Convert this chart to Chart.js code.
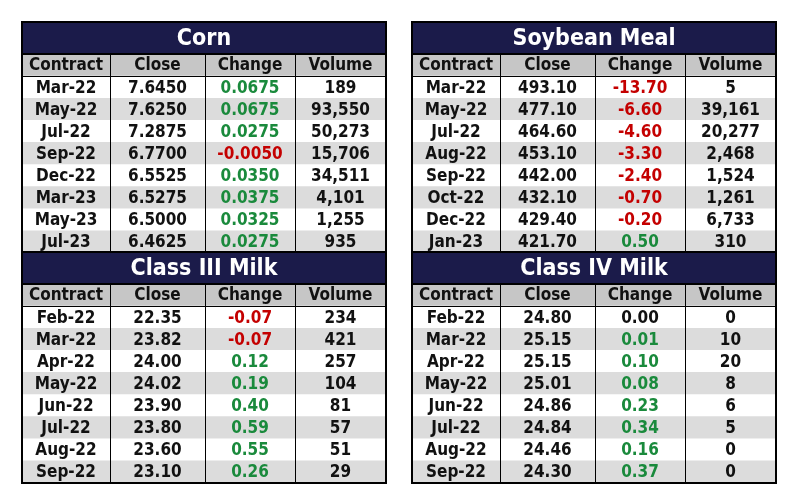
<!DOCTYPE html>
<html><head><meta charset="utf-8">
<script src="https://cdn.jsdelivr.net/npm/chart.js@4/dist/chart.umd.min.js"></script>
<style>body{margin:0;background:#fff;width:799px;height:503px;position:relative;overflow:hidden}canvas{position:absolute}</style>
</head><body>
<canvas id="c1" width="366" height="233" style="left:21px;top:21px"></canvas>
<canvas id="c2" width="366" height="233" style="left:21px;top:251px"></canvas>
<canvas id="c3" width="366" height="233" style="left:411px;top:21px"></canvas>
<canvas id="c4" width="366" height="233" style="left:411px;top:251px"></canvas>
<script>
const columns = ["Contract","Close","Change","Volume"];
const columnEdges = [0, 88, 183, 273, 364];

const cornContracts = ["Mar-22","May-22","Jul-22","Sep-22","Dec-22","Mar-23","May-23","Jul-23"];
const cornClose = ["7.6450","7.6250","7.2875","6.7700","6.5525","6.5275","6.5000","6.4625"];
const cornChange = ["0.0675","0.0675","0.0275","-0.0050","0.0350","0.0375","0.0325","0.0275"];
const cornVolume = ["189","93,550","50,273","15,706","34,511","4,101","1,255","935"];

const mealContracts = ["Mar-22","May-22","Jul-22","Aug-22","Sep-22","Oct-22","Dec-22","Jan-23"];
const mealClose = ["493.10","477.10","464.60","453.10","442.00","432.10","429.40","421.70"];
const mealChange = ["-13.70","-6.60","-4.60","-3.30","-2.40","-0.70","-0.20","0.50"];
const mealVolume = ["5","39,161","20,277","2,468","1,524","1,261","6,733","310"];

const milk3Contracts = ["Feb-22","Mar-22","Apr-22","May-22","Jun-22","Jul-22","Aug-22","Sep-22"];
const milk3Close = ["22.35","23.82","24.00","24.02","23.90","23.80","23.60","23.10"];
const milk3Change = ["-0.07","-0.07","0.12","0.19","0.40","0.59","0.55","0.26"];
const milk3Volume = ["234","421","257","104","81","57","51","29"];

const milk4Contracts = ["Feb-22","Mar-22","Apr-22","May-22","Jun-22","Jul-22","Aug-22","Sep-22"];
const milk4Close = ["24.80","25.15","25.15","25.01","24.86","24.84","24.46","24.30"];
const milk4Change = ["0.00","0.01","0.10","0.08","0.23","0.34","0.16","0.37"];
const milk4Volume = ["0","10","20","8","6","5","0","0"];

const FONT = '"DejaVu Sans Condensed","DejaVu Sans",sans-serif';

function makeTable(id, title, contracts, close, change, volume){
  const rows = ["header", ...contracts];
  const cells = [columns, ...contracts.map((c,i)=>[c, close[i], change[i], volume[i]])];
  const total = columnEdges[columnEdges.length-1];
  const tablePlugin = {
    id:'tbl',
    afterDatasetsDraw(chart){
      const ctx = chart.ctx, x = chart.scales.x, y = chart.scales.y, a = chart.chartArea;
      const half = (y.getPixelForValue(1)-y.getPixelForValue(0))/2;
      // title bar
      ctx.save();
      ctx.fillStyle = '#1b1b4a';
      ctx.fillRect(a.left, 1, a.right-a.left, a.top-1);
      ctx.fillStyle = '#fff';
      ctx.font = 'bold 23px '+FONT;
      ctx.textAlign='center'; ctx.textBaseline='middle';
      ctx.fillText(title, (a.left+a.right)/2, (a.top+1)/2+1);
      // texts
      cells.forEach((row, r)=>{
        const py = y.getPixelForValue(r);
        row.forEach((t, c)=>{
          const px = x.getPixelForValue((columnEdges[c]+columnEdges[c+1])/2);
          let col = '#111';
          if (r>0 && c===2){ const v=parseFloat(t); col = v>0 ? '#1a8a3c' : (v<0 ? '#c40000' : '#111'); }
          ctx.fillStyle = col;
          ctx.font = 'bold 17px '+FONT;
          ctx.fillText(t, px, py+1);
        });
      });
      // grid lines
      ctx.strokeStyle='#000'; ctx.lineWidth=1;
      columnEdges.slice(1,-1).forEach(e=>{
        const px = Math.round(x.getPixelForValue(e))+0.5;
        ctx.beginPath(); ctx.moveTo(px, a.top); ctx.lineTo(px, a.bottom); ctx.stroke();
      });
      const hy = Math.round(y.getPixelForValue(0)+half)+0.5;
      ctx.beginPath(); ctx.moveTo(a.left, hy); ctx.lineTo(a.right, hy); ctx.stroke();
      ctx.lineWidth=2;
      ctx.strokeRect(a.left, 1, a.right-a.left, a.bottom-1);
      ctx.beginPath(); ctx.moveTo(a.left,a.top); ctx.lineTo(a.right,a.top); ctx.stroke();
      ctx.restore();
    }
  };
  new Chart(document.getElementById(id), {
    type:'bar',
    data:{ labels: rows, datasets:[{ data: rows.map(()=>[0,total]),
      backgroundColor: rows.map((r,i)=> i===0 ? '#c6c6c6' : (i%2===0 ? '#dcdcdc' : '#ffffff')),
      barPercentage:1, categoryPercentage:1, borderWidth:0 }]},
    options:{
      indexAxis:'y', responsive:false, animation:false, devicePixelRatio:1,
      layout:{padding:{left:1,right:1,top:33,bottom:1}},
      plugins:{legend:{display:false}, tooltip:{enabled:false}},
      scales:{
        x:{type:'linear', min:0, max:total, display:false},
        y:{type:'category', offset:true, display:false}
      }
    },
    plugins:[tablePlugin]
  });
}
makeTable('c1','Corn',cornContracts,cornClose,cornChange,cornVolume);
makeTable('c2','Class III Milk',milk3Contracts,milk3Close,milk3Change,milk3Volume);
makeTable('c3','Soybean Meal',mealContracts,mealClose,mealChange,mealVolume);
makeTable('c4','Class IV Milk',milk4Contracts,milk4Close,milk4Change,milk4Volume);
</script>
</body></html>
